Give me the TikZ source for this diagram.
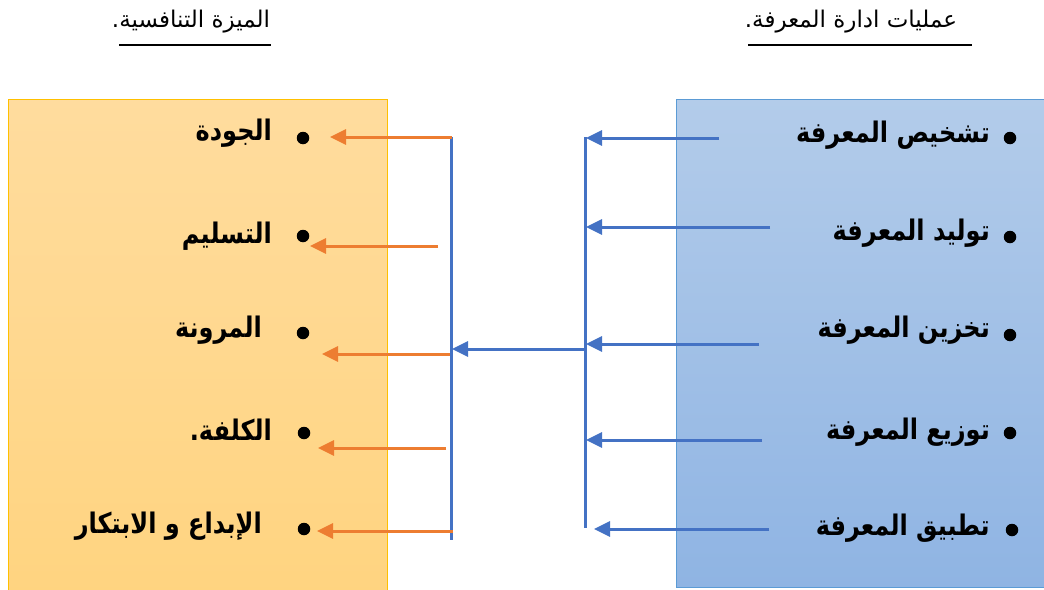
\documentclass[tikz,border=0pt]{standalone}
\usepackage{fontspec}
\usetikzlibrary{arrows.meta}
\TeXXeTstate=1
\newfontfamily\arabicfont[Script=Arabic]{DejaVu Sans}
\definecolor{linkblue}{HTML}{4472C4}
\definecolor{linkorange}{HTML}{ED7D31}
\definecolor{warmtop}{HTML}{FFDC9E}
\definecolor{warmbottom}{HTML}{FFD480}
\definecolor{warmedge}{HTML}{FFC000}
\definecolor{cooltop}{HTML}{B3CCEA}
\definecolor{coolbottom}{HTML}{8FB4E3}
\definecolor{cooledge}{HTML}{5B9BD5}

% taller Arabic lettering for the list entries
\newcommand{\tallar}[1]{\scalebox{1}[1.18]{\beginR #1\endR}}

\tikzset{
  heading/.style={inner sep=0pt, font=\arabicfont\fontsize{23}{26}\selectfont},
  item/.style={anchor=east, inner sep=0pt, font=\arabicfont\bfseries\fontsize{24}{28}\selectfont},
  dot/.style={circle, fill=black, inner sep=0pt, minimum size=12.5pt},
  feed/.style={draw=linkblue, line width=3pt, -{Triangle[length=16pt,width=15pt,fill=linkblue]}},
  yield/.style={draw=linkorange, line width=3pt, -{Triangle[length=16pt,width=15pt,fill=linkorange]}},
  bar/.style={draw=linkblue, line width=3pt},
  rule/.style={line width=2pt},
}

\begin{document}
\begin{tikzpicture}[x=1pt,y=-1pt]
\useasboundingbox (0,0) rectangle (1044,589);
\fill[white] (0,0) rectangle (1044,589);

% panels
\shade[top color=warmtop, bottom color=warmbottom] (8,99) rectangle (387,595);
\draw[warmedge, line width=1pt] (8,595) -- (8,99) -- (387,99) -- (387,595);
\shade[top color=cooltop, bottom color=coolbottom] (676,99) rectangle (1050,587);
\draw[cooledge, line width=1pt] (1050,99) -- (676,99) -- (676,587) -- (1050,587);

% headings with their underlines
\node[heading] (advTitle) at (191,22) {\beginR الميزة التنافسية.\endR};
\coordinate (advRuleL) at (119,45);
\coordinate (advRuleR) at (271,45);
\draw[rule] (advRuleL) -- (advRuleR);
\node[heading] (kmTitle) at (851,22) {\beginR عمليات ادارة المعرفة.\endR};
\coordinate (kmRuleL) at (748,45);
\coordinate (kmRuleR) at (972,45);
\draw[rule] (kmRuleL) -- (kmRuleR);

% left list
\node[dot] (a1) at (303,138) {};
\node[dot] (a2) at (303,236) {};
\node[dot] (a3) at (303,333) {};
\node[dot] (a4) at (304,433) {};
\node[dot] (a5) at (304,529) {};
\node[item] (at1) at (272,133) {\tallar{الجودة}};
\node[item] (at2) at (272,236) {\tallar{التسليم}};
\node[item] (at3) at (262,330) {\tallar{المرونة}};
\node[item] (at4) at (272,430) {\tallar{الكلفة.}};
\node[item] (at5) at (262,526) {\tallar{الإبداع و الابتكار}};

% right list
\node[dot] (k1) at (1010,138) {};
\node[dot] (k2) at (1010,237) {};
\node[dot] (k3) at (1010,335) {};
\node[dot] (k4) at (1010,433) {};
\node[dot] (k5) at (1012,530) {};
\node[item] (kt1) at (990,135) {\tallar{تشخيص المعرفة}};
\node[item] (kt2) at (990,233) {\tallar{توليد المعرفة}};
\node[item] (kt3) at (990,330) {\tallar{تخزين المعرفة}};
\node[item] (kt4) at (990,432) {\tallar{توزيع المعرفة}};
\node[item] (kt5) at (990,528) {\tallar{تطبيق المعرفة}};

% collector bars
\coordinate (kmTop) at (585,137);
\coordinate (kmBot) at (585,528);
\coordinate (advTop) at (451,137);
\coordinate (advBot) at (451,540);
\draw[bar] (kmTop) -- (kmBot);
\draw[bar] (advTop) -- (advBot);

% process arrows into the right bar
\coordinate (ks1) at (719,138); \coordinate (ke1) at (586,138);
\coordinate (ks2) at (770,227); \coordinate (ke2) at (586,227);
\coordinate (ks3) at (759,344); \coordinate (ke3) at (586,344);
\coordinate (ks4) at (762,440); \coordinate (ke4) at (586,440);
\coordinate (ks5) at (769,529); \coordinate (ke5) at (594,529);
\foreach \i in {1,...,5} \draw[feed] (ks\i) -- (ke\i);

% link between the bars
\coordinate (midS) at (585,349);
\coordinate (midE) at (452,349);
\draw[feed] (midS) -- (midE);

% outcome arrows from the left bar
\coordinate (as1) at (452,137); \coordinate (ae1) at (330,137);
\coordinate (as2) at (438,246); \coordinate (ae2) at (310,246);
\coordinate (as3) at (450,354); \coordinate (ae3) at (322,354);
\coordinate (as4) at (446,448); \coordinate (ae4) at (318,448);
\coordinate (as5) at (453,531); \coordinate (ae5) at (317,531);
\foreach \i in {1,...,5} \draw[yield] (as\i) -- (ae\i);
\end{tikzpicture}
\end{document}
